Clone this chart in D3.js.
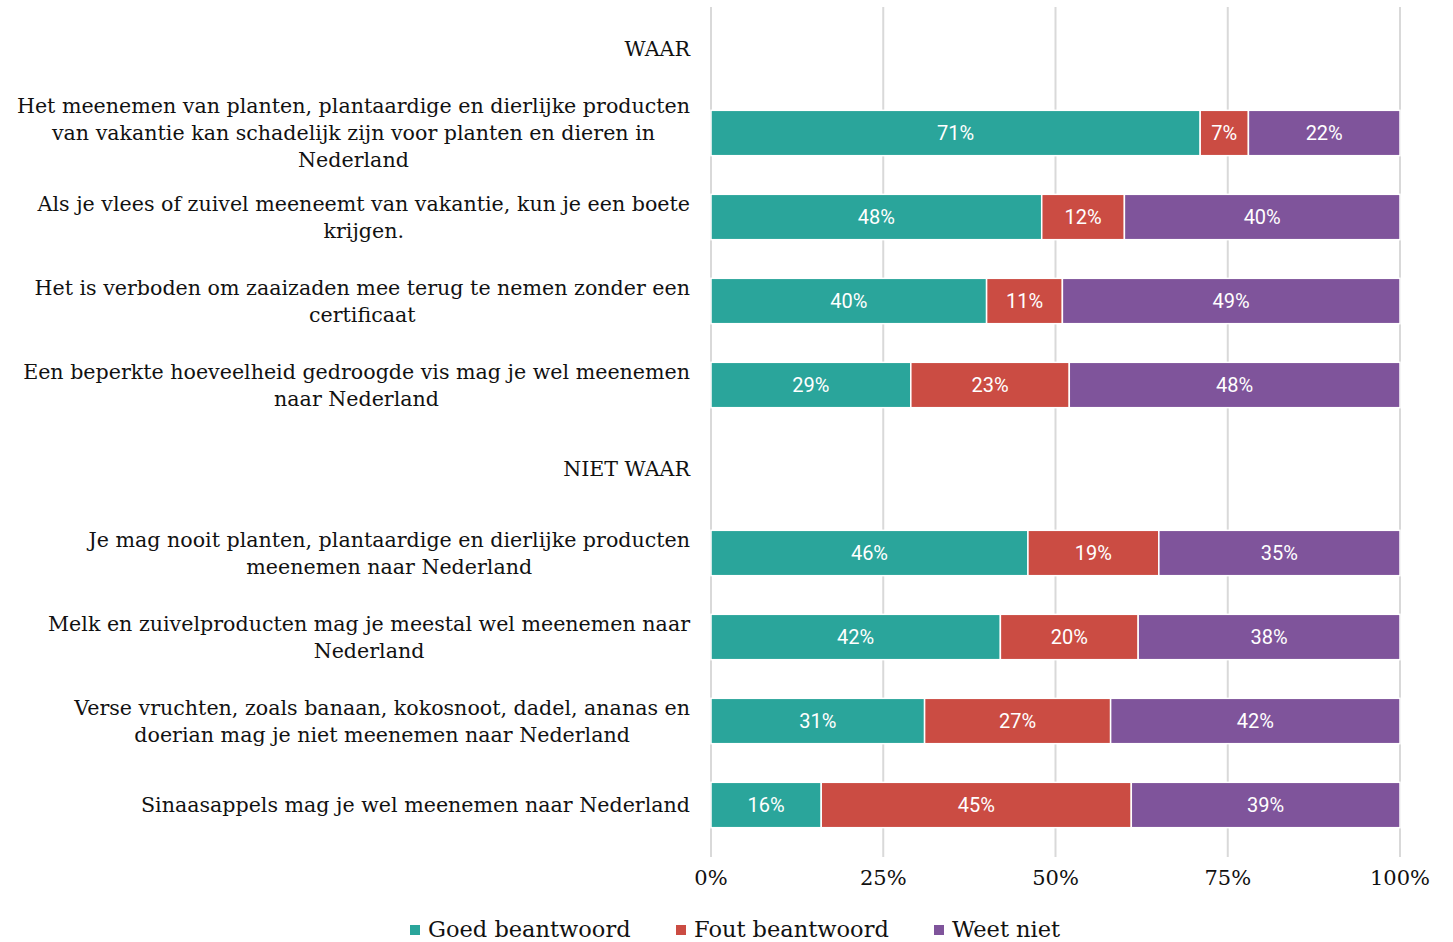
<!DOCTYPE html>
<html>
<head>
<meta charset="utf-8">
<script src="https://cdn.jsdelivr.net/npm/d3@7"></script>
<style>
  body { margin: 0; background: #fff; }
  svg { display: block; }
</style>
</head>
<body>
<svg id="chart" width="1453" height="942"></svg>
<script>
// categories (label lines as wrapped in the reference), '' values = section header
const labels = [
  ['WAAR'],
  ['Het meenemen van planten, plantaardige en dierlijke producten', 'van vakantie kan schadelijk zijn voor planten en dieren in', 'Nederland'],
  ['Als je vlees of zuivel meeneemt van vakantie, kun je een boete', 'krijgen.'],
  ['Het is verboden om zaaizaden mee terug te nemen zonder een', 'certificaat'],
  ['Een beperkte hoeveelheid gedroogde vis mag je wel meenemen', 'naar Nederland'],
  ['NIET WAAR'],
  ['Je mag nooit planten, plantaardige en dierlijke producten', 'meenemen naar Nederland'],
  ['Melk en zuivelproducten mag je meestal wel meenemen naar', 'Nederland'],
  ['Verse vruchten, zoals banaan, kokosnoot, dadel, ananas en', 'doerian mag je niet  meenemen naar Nederland'],
  ['Sinaasappels mag je wel meenemen naar Nederland']
];
const isHeader = [true, false, false, false, false, true, false, false, false, false];

const series = ['Goed beantwoord', 'Fout beantwoord', 'Weet niet'];
const goed  = [null, 71, 48, 40, 29, null, 46, 42, 31, 16];
const fout  = [null, 7, 12, 11, 23, null, 19, 20, 27, 45];
const weet  = [null, 22, 40, 49, 48, null, 35, 38, 42, 39];
const ticks = [0, 25, 50, 75, 100];
const colors = ['#2aa59b', '#cb4c43', '#7f549b'];

const svg = d3.select('#chart');
const serif = '"DejaVu Serif", "Liberation Serif", serif';
const sans = '"Liberation Sans Narrow", Roboto, "Open Sans", sans-serif';

const x = d3.scaleLinear([0, 100], [711, 1400]);
const y = d3.scaleBand(d3.range(labels.length), [7, 847]).paddingInner(0.46).paddingOuter(0.23);

/*
Grid lines
*/
svg.append('g').selectAll('line').data(ticks).join('line')
  .attr('x1', d => x(d)).attr('x2', d => x(d))
  .attr('y1', 7).attr('y2', 857)
  .style('stroke', '#d9d9d9').style('stroke-width', 2);

/*
Stacked bars
*/
const rows = labels.map((l, i) => ({ i, vals: [goed[i], fout[i], weet[i]] })).filter(d => !isHeader[d.i]);
const segs = [];
rows.forEach(r => {
  let acc = 0;
  r.vals.forEach((v, k) => {
    segs.push({ i: r.i, k, v, x0: acc, x1: acc + v });
    acc += v;
  });
});

svg.append('g').selectAll('rect').data(segs).join('rect')
  .attr('x', d => x(d.x0))
  .attr('width', d => x(d.x1) - x(d.x0))
  .attr('y', d => y(d.i))
  .attr('height', y.bandwidth())
  .style('fill', d => colors[d.k])
  .style('stroke', '#fff').style('stroke-width', 1.5);

svg.append('g').selectAll('text').data(segs).join('text')
  .attr('x', d => x((d.x0 + d.x1) / 2))
  .attr('y', d => y(d.i) + y.bandwidth() / 2)
  .attr('dy', '0.36em')
  .attr('text-anchor', 'middle')
  .style('font-family', sans).style('font-size', '20px')
  .style('fill', '#fff')
  .text(d => d.v + '%');

/*
Category labels: lines centred on each other, block right-aligned
*/
const lineH = 27;
const labelG = svg.append('g');
labels.forEach((lines, i) => {
  const g = labelG.append('g');
  const cy = y(i) + y.bandwidth() / 2;
  const top = cy - (lines.length - 1) * lineH / 2;
  const txt = g.selectAll('text').data(lines).join('text')
    .attr('y', (d, j) => top + j * lineH)
    .attr('dy', '0.35em')
    .style('font-family', serif).style('font-size', '20.6px')
    .style('fill', '#111')
    .text(d => d);
  const widths = txt.nodes().map(n => n.getComputedTextLength());
  const maxW = d3.max(widths);
  if (isHeader[i]) {
    txt.attr('x', 690).attr('text-anchor', 'end');
  } else {
    txt.attr('x', 690 - maxW / 2).attr('text-anchor', 'middle');
  }
});

/*
X axis tick labels
*/
svg.append('g').selectAll('text').data(ticks).join('text')
  .attr('x', d => x(d))
  .attr('y', 878)
  .attr('dy', '0.35em')
  .attr('text-anchor', 'middle')
  .style('font-family', serif).style('font-size', '21px')
  .style('fill', '#111')
  .text(d => d + '%');

/*
Legend
*/
const legX = [410, 676, 934];
const leg = svg.append('g').selectAll('g').data(series).join('g')
  .attr('transform', (d, k) => `translate(${legX[k]},929)`);
leg.append('rect').attr('x', 0).attr('y', -4).attr('width', 10).attr('height', 10)
  .style('fill', (d, k) => colors[k]);
leg.append('text').attr('x', 18).attr('dy', '0.35em')
  .style('font-family', serif).style('font-size', '22.5px')
  .style('fill', '#111')
  .text(d => d);
</script>
</body>
</html>
